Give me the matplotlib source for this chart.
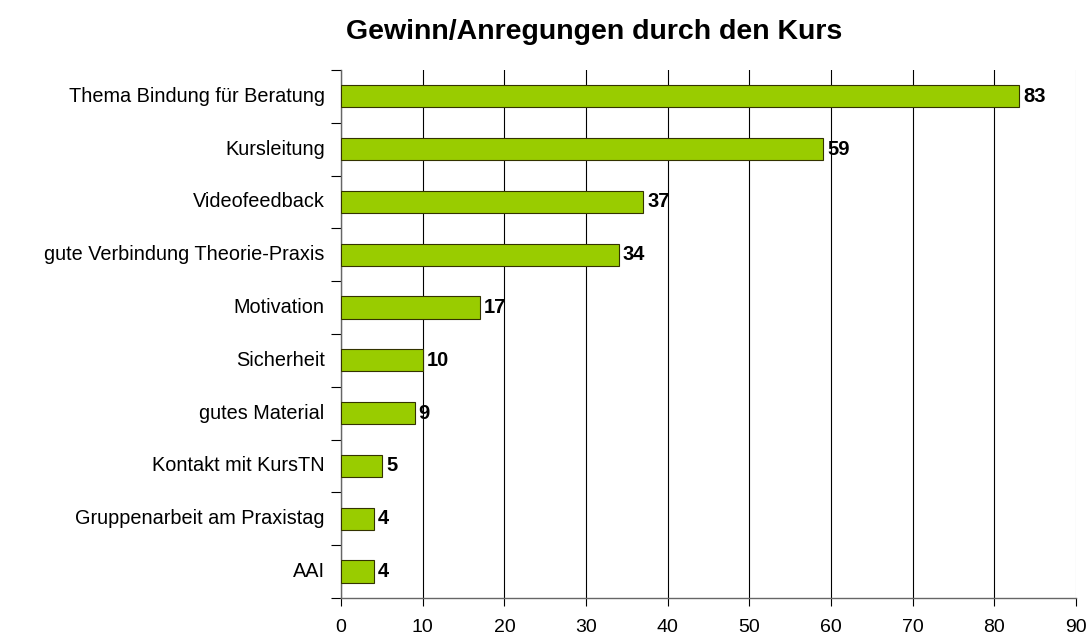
import matplotlib
matplotlib.use('Agg')
import matplotlib.pyplot as plt

plt.rcParams['font.family'] = ['Liberation Sans', 'DejaVu Sans']

categories = ['Thema Bindung für Beratung', 'Kursleitung', 'Videofeedback',
              'gute Verbindung Theorie-Praxis', 'Motivation', 'Sicherheit',
              'gutes Material', 'Kontakt mit KursTN', 'Gruppenarbeit am Praxistag', 'AAI']
values = [83, 59, 37, 34, 17, 10, 9, 5, 4, 4]
xticks = [0, 10, 20, 30, 40, 50, 60, 70, 80, 90]

fig = plt.figure(figsize=(10.91, 6.39), dpi=100)
ax = fig.add_axes([0.3126, 0.0642, 0.6737, 0.8263])

n = len(categories)
pos = list(range(n))[::-1]
ax.barh(pos, values, height=0.42, color='#99CC00', edgecolor='#333300', linewidth=0.8, zorder=3)

for p, v in zip(pos, values):
    ax.text(v + 0.5, p, str(v), va='center', ha='left', fontsize=14.5, fontweight='bold', zorder=4)

ax.set_xlim(0, 90)
ax.set_ylim(-0.5, n - 0.5)
ax.set_xticks(xticks)
ax.set_xticklabels([str(t) for t in xticks], fontsize=14)
ax.xaxis.grid(True, color='black', linewidth=0.8, zorder=0)
ax.get_xgridlines()[-1].set_color('#bbbbbb')
ax.tick_params(axis='x', direction='out', length=6, width=0.8, pad=9)

# category labels between tick marks
ax.set_yticks([i - 0.5 for i in range(n + 1)])
ax.set_yticklabels([])
ax.tick_params(axis='y', direction='out', length=7, width=0.8)
for p, c in zip(pos, categories):
    ax.text(-2.0, p, c, ha='right', va='center', fontsize=14.3)

for s in ['top', 'right']:
    ax.spines[s].set_visible(False)
for s in ['left', 'bottom']:
    ax.spines[s].set_color('#666666')
    ax.spines[s].set_linewidth(1.0)

fig.suptitle('Gewinn/Anregungen durch den Kurs', x=0.545, y=0.97, fontsize=20.5, fontweight='bold')

fig.savefig('out.png', dpi=100)
